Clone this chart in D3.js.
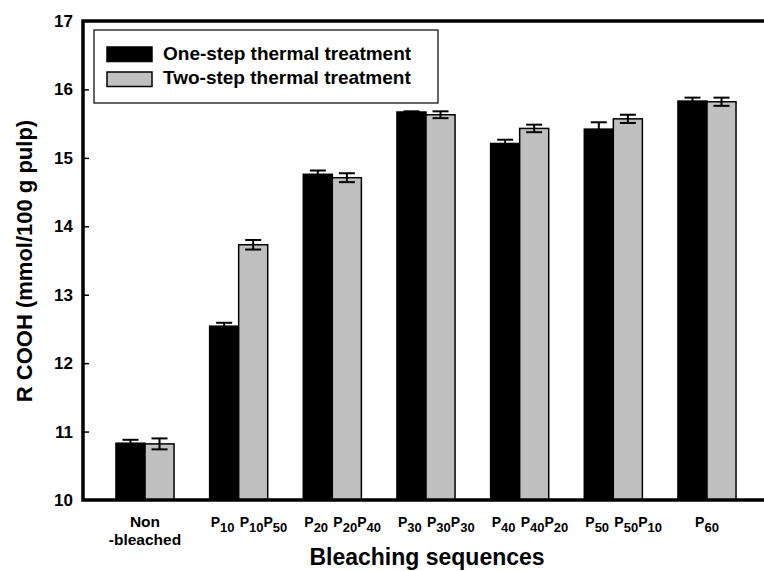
<!DOCTYPE html>
<html><head><meta charset="utf-8">
<script src="https://cdn.jsdelivr.net/npm/d3@7"></script>
<style>
html,body{margin:0;padding:0;background:#fff;}
svg{display:block;font-family:"Liberation Sans",Arial,sans-serif;}
</style></head>
<body>
<svg id="chart" width="764" height="571"></svg>
<script>
const groups = ["Non-bleached","P10","P20","P30","P40","P50","P60"];
const seriesNames = ["One-step thermal treatment","Two-step thermal treatment"];
const oneStep    = [10.83, 12.54, 14.76, 15.67, 15.21, 15.42, 15.83];
const oneStepErr = [0.05, 0.05, 0.055, 0.01, 0.055, 0.10, 0.05];
const twoStep    = [10.82, 13.73, 14.71, 15.63, 15.43, 15.57, 15.82];
const twoStepErr = [0.08, 0.07, 0.065, 0.05, 0.055, 0.06, 0.06];
const oneStepLabels = ["", "P10", "P20", "P30", "P40", "P50", ""];
const twoStepLabels = ["", "P10P50", "P20P40", "P30P30", "P40P20", "P50P10", ""];
const groupLabels = [["Non","-bleached"], [], [], [], [], [], ["P60"]];
const yTicks = [10, 11, 12, 13, 14, 15, 16, 17];
const colors = ["#000000", "#c0c0c0"];

const svg = d3.select("#chart");
const mLeft = 83, mRight = 769, mTop = 21, mBottom = 500;
const x = d3.scalePoint().domain(groups).range([mLeft, mRight]).padding(0.662);
const y = d3.scaleLinear().domain([10, 17]).range([mBottom, mTop]);
const bw = x.step() * 0.31;

const series = [
  {vals: oneStep, errs: oneStepErr, labels: oneStepLabels, off: -1},
  {vals: twoStep, errs: twoStepErr, labels: twoStepLabels, off: 0}
];

// bars
series.forEach((s, si) => {
  const g = svg.append("g");
  g.selectAll("rect").data(groups).enter().append("rect")
    .attr("x", d => x(d) + s.off * bw)
    .attr("width", bw)
    .attr("y", (d, i) => y(s.vals[i]))
    .attr("height", (d, i) => y(10) - y(s.vals[i]))
    .attr("fill", colors[si])
    .attr("stroke", "#000").attr("stroke-width", 1.5);
  const eb = svg.append("g").attr("stroke", "#000").attr("stroke-width", 2);
  groups.forEach((d, i) => {
    const cx = x(d) + s.off * bw + bw / 2;
    const y1 = y(s.vals[i] + s.errs[i]), y0 = y(s.vals[i] - s.errs[i]);
    eb.append("line").attr("x1", cx).attr("x2", cx).attr("y1", y1).attr("y2", y0);
    eb.append("line").attr("x1", cx - 8).attr("x2", cx + 8).attr("y1", y1).attr("y2", y1);
    eb.append("line").attr("x1", cx - 8).attr("x2", cx + 8).attr("y1", y0).attr("y2", y0);
  });
});

// y axis
const yAxis = d3.axisLeft(y).tickValues(yTicks).tickSize(-6).tickPadding(10).tickFormat(d3.format("d"));
const ya = svg.append("g").attr("transform", `translate(${mLeft},0)`).call(yAxis);
ya.select(".domain").remove();
ya.selectAll("line").attr("stroke", "#000").attr("stroke-width", 1.5)
  .filter(d => d === 10 || d === 17).remove();
ya.selectAll("text").attr("font-size", 17).attr("font-weight", "bold").attr("fill", "#000")
  .attr("font-family", "'Liberation Sans',Arial,sans-serif");

// frame
svg.append("path")
  .attr("d", `M${mRight},${mTop}H${mLeft}V${mBottom}H${mRight}`)
  .attr("fill", "none").attr("stroke", "#000").attr("stroke-width", 3.5);

// x labels with subscripts
function subLabel(sel, str) {
  const parts = str.match(/P\d+/g) || [];
  parts.forEach((p, k) => {
    sel.append("tspan").attr("font-size", 14).attr("dy", k === 0 ? 0 : -5).text("P");
    sel.append("tspan").attr("font-size", 13).attr("dy", 5).text(p.slice(1));
  });
}
series.forEach(s => {
  groups.forEach((d, i) => {
    if (!s.labels[i]) return;
    const t = svg.append("text").attr("x", x(d) + s.off * bw + 1).attr("y", 527)
      .attr("font-weight", "bold").attr("font-size", 14).attr("fill", "#000");
    subLabel(t, s.labels[i]);
  });
});
groups.forEach((d, i) => {
  groupLabels[i].forEach((l, k) => {
    const t = svg.append("text").attr("x", x(d)).attr("y", 527 + k * 18)
      .attr("text-anchor", "middle").attr("font-weight", "bold").attr("font-size", 15.5);
    if (/^P\d+$/.test(l)) { t.attr("font-size", 14); subLabel(t, l); } else t.text(l);
  });
});

// axis titles
svg.append("text").attr("x", 427).attr("y", 565).attr("text-anchor", "middle")
  .attr("font-size", 23).attr("font-weight", "bold").text("Bleaching sequences");
svg.append("text").attr("transform", "translate(32,261) rotate(-90)").attr("text-anchor", "middle")
  .attr("font-size", 22).attr("font-weight", "bold").text("R COOH (mmol/100 g pulp)");

// legend
const lg = svg.append("g");
lg.append("rect").attr("x", 94).attr("y", 30).attr("width", 344).attr("height", 73)
  .attr("fill", "#fff").attr("stroke", "#000").attr("stroke-width", 1.2);
seriesNames.forEach((n, i) => {
  lg.append("rect").attr("x", 107).attr("y", 47 + i * 25).attr("width", 45).attr("height", 14.5)
    .attr("fill", colors[i]).attr("stroke", "#000").attr("stroke-width", 1.5);
  lg.append("text").attr("x", 163).attr("y", 60 + i * 24).attr("font-size", 19)
    .attr("font-weight", "bold").text(n);
});
</script>
</body></html>
